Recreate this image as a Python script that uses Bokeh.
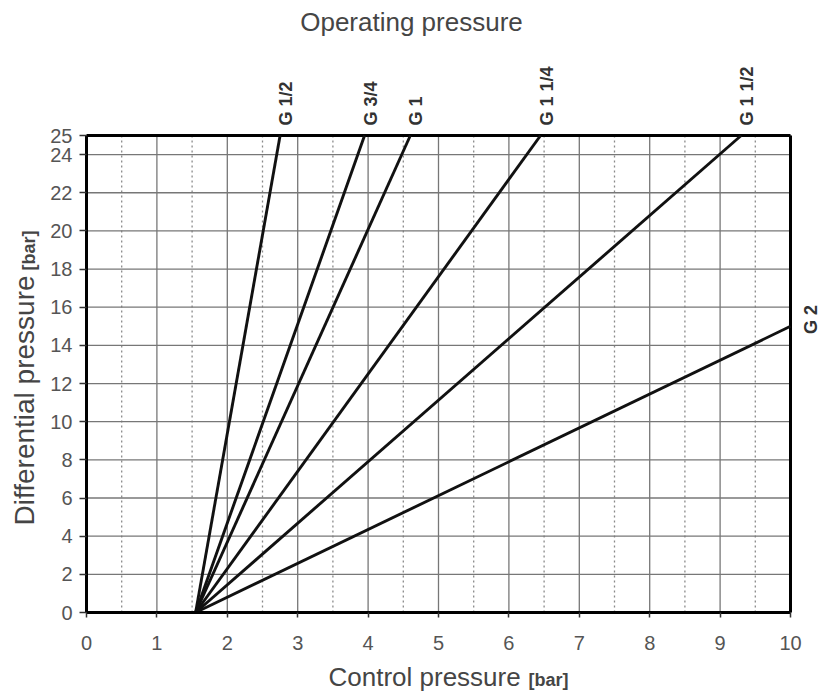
import math
from bokeh.plotting import figure
from bokeh.models import Range1d, FixedTicker, Label, ColumnDataSource, LinearAxis
from bokeh.embed import file_html
from bokeh.resources import INLINE

# ---- data ----
sizes = ["G 1/2", "G 3/4", "G 1", "G 1 1/4", "G 1 1/2", "G 2"]
start_x = 1.55
start_y = 0.0
end_x = [2.75, 3.95, 4.6, 6.45, 9.3, 10.0]
end_y = [25.0, 25.0, 25.0, 25.0, 25.0, 15.0]

x_ticks = [0, 1, 2, 3, 4, 5, 6, 7, 8, 9, 10]
x_minor = [0.5, 1.5, 2.5, 3.5, 4.5, 5.5, 6.5, 7.5, 8.5, 9.5]
y_ticks = [0, 2, 4, 6, 8, 10, 12, 14, 16, 18, 20, 22, 24, 25]
y_grid = [2, 4, 6, 8, 10, 12, 14, 16, 18, 20, 22, 24]

title_text = "Operating pressure"
x_label = "Control pressure"
y_label = "Differential pressure"
unit_label = "[bar]"

FONT = "Liberation Sans"
TXT = "#454545"

# ---- layout (pixels) ----
W, H = 830, 695
PL, PR, PT, PB = 86, 790, 135, 612   # plot box edges in pixels
XMIN, XMAX = x_ticks[0], x_ticks[-1]
YMIN, YMAX = y_ticks[0], y_ticks[-1]
sx = (PR - PL) / (XMAX - XMIN)
sy = (PB - PT) / (YMAX - YMIN)

def px_x(px):
    return XMIN + (px - PL) / sx

def px_y(py):
    return YMIN + (PB - py) / sy

p = figure(width=W, height=H, output_backend="svg", toolbar_location=None,
           x_range=Range1d(px_x(0), px_x(W)), y_range=Range1d(px_y(H), px_y(0)),
           x_axis_location=None, y_axis_location=None,
           min_border_left=0, min_border_right=0,
           min_border_top=0, min_border_bottom=0)
p.background_fill_color = "white"
p.border_fill_color = "white"
p.outline_line_color = None
p.xgrid.visible = False
p.ygrid.visible = False

# grid lines
p.segment(x0=x_minor, y0=[YMIN] * len(x_minor), x1=x_minor, y1=[YMAX] * len(x_minor),
          line_color="#8a8a8a", line_width=1.3, line_dash="2 3")
p.segment(x0=x_ticks, y0=[YMIN] * len(x_ticks), x1=x_ticks, y1=[YMAX] * len(x_ticks),
          line_color="#777777", line_width=1.3)
p.segment(x0=[XMIN] * len(y_grid), y0=y_grid, x1=[XMAX] * len(y_grid), y1=y_grid,
          line_color="#777777", line_width=1.3)

# axes at the plot box
xa = LinearAxis(fixed_location=YMIN, bounds=(XMIN, XMAX),
                ticker=FixedTicker(ticks=x_ticks, minor_ticks=x_minor))
ya = LinearAxis(fixed_location=XMIN, bounds=(YMIN, YMAX),
                ticker=FixedTicker(ticks=y_ticks))
for ax in (xa, ya):
    ax.axis_line_color = "black"
    ax.axis_line_width = 3
    ax.major_tick_line_color = "#333333"
    ax.major_tick_line_width = 1.5
    ax.major_tick_in = 0
    ax.minor_tick_line_color = None
    ax.major_label_text_font = FONT
    ax.major_label_text_font_size = "20px"
    ax.major_label_text_color = "#555555"
xa.major_tick_out = 5
xa.major_label_standoff = 18
ya.major_tick_out = 7
ya.major_label_standoff = 7
p.add_layout(xa, "below")
p.add_layout(ya, "left")

# box outline (top and right edges)
p.segment(x0=[XMIN, XMAX], y0=[YMAX, YMIN], x1=[XMAX, XMAX], y1=[YMAX, YMAX],
          line_color="black", line_width=3)

# lines
src = ColumnDataSource(dict(
    xs=[[start_x, ex] for ex in end_x],
    ys=[[start_y, ey] for ey in end_y],
))
p.multi_line(xs="xs", ys="ys", source=src, line_color="#111111", line_width=2.9)

# size labels
for name, ex, ey in zip(sizes, end_x, end_y):
    if ey >= YMAX:
        lab = Label(x=ex, y=px_y(125), text=name, angle=math.pi / 2, x_offset=6,
                    text_align="left", text_baseline="middle",
                    text_font=FONT, text_font_style="bold",
                    text_font_size="18px", text_color="#333333")
    else:
        lab = Label(x=px_x(810), y=px_y(319), text=name, angle=math.pi / 2,
                    text_align="center", text_baseline="middle",
                    text_font=FONT, text_font_style="bold",
                    text_font_size="18px", text_color="#333333")
    p.add_layout(lab)

# title and axis labels
p.add_layout(Label(x=px_x(411), y=px_y(21), text=title_text, text_align="center",
                   text_baseline="alphabetic", text_font=FONT,
                   text_font_size="26px", text_color=TXT))
p.add_layout(Label(x=px_x(328), y=px_y(676), text=x_label, text_align="left",
                   text_baseline="alphabetic", text_font=FONT,
                   text_font_size="26px", text_color=TXT))
p.add_layout(Label(x=px_x(528), y=px_y(679), text=unit_label, text_align="left",
                   text_baseline="alphabetic", text_font=FONT,
                   text_font_style="bold", text_font_size="18px",
                   text_color=TXT))
p.add_layout(Label(x=px_x(24), y=px_y(525), text=y_label, text_align="left",
                   angle=math.pi / 2,
                   text_baseline="alphabetic", text_font=FONT,
                   text_font_size="28px", text_color=TXT))
p.add_layout(Label(x=px_x(28), y=px_y(270), text=unit_label, text_align="left",
                   angle=math.pi / 2,
                   text_baseline="alphabetic", text_font=FONT,
                   text_font_style="bold", text_font_size="18px",
                   text_color=TXT))

open("out.html", "w").write(file_html(p, INLINE))
